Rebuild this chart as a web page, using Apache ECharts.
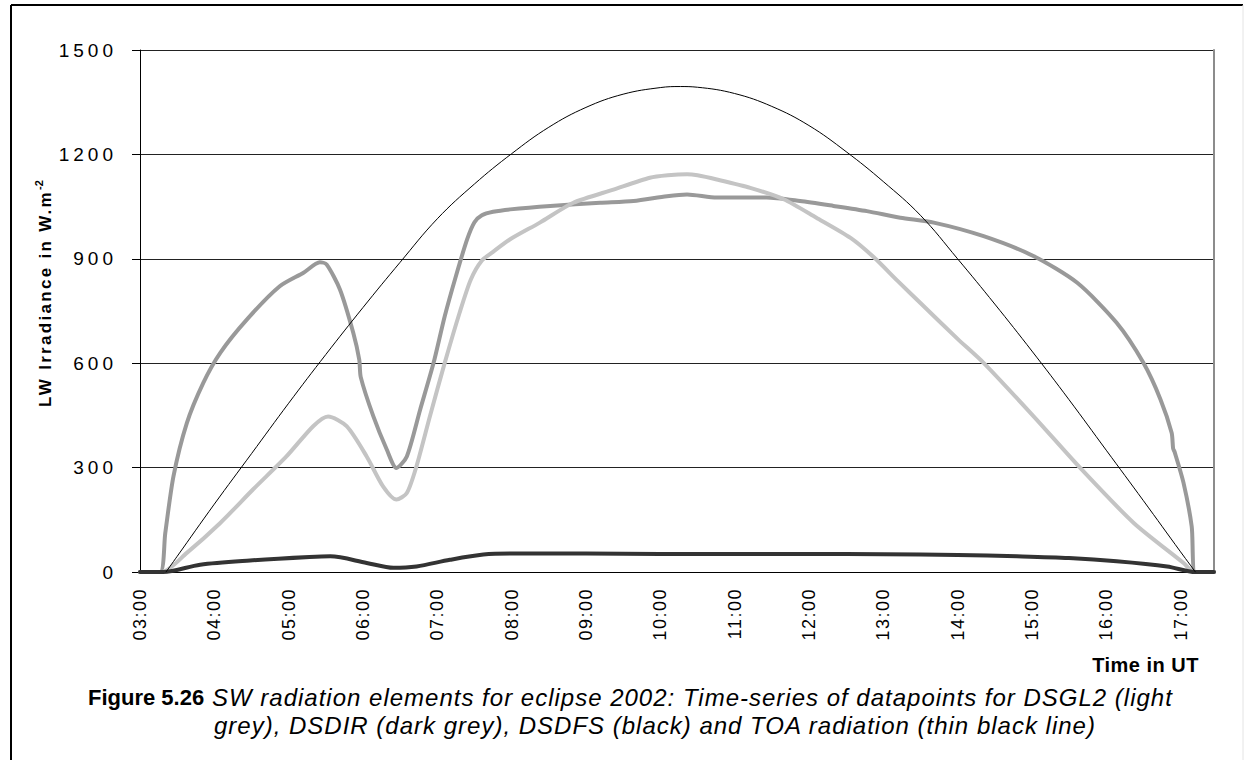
<!DOCTYPE html>
<html>
<head>
<meta charset="utf-8">
<script src="https://cdn.jsdelivr.net/npm/echarts@6/dist/echarts.min.js"></script>
<style>
  html, body { margin: 0; padding: 0; background: #fff; }
  #chart { width: 1244px; height: 760px; }
  /* tracking for the different text groups (keyed on their font size) */
  #chart text[style*="19px"] { letter-spacing: 4px; }
  #chart text[style*="18px"] { letter-spacing: 1.5px; }
  #chart text[style*="17px"] { letter-spacing: 2.3px; }
  #chart text[style*="20px"] { letter-spacing: 0.5px; }
  #chart text[style*="24px"] { letter-spacing: 1px; }
</style>
</head>
<body>
<div id="chart"></div>
<script>
// Time in decimal hours (UT) and irradiance in W/m2 for each series.
const dsglTime  = [3.0, 3.29, 3.63, 4.08, 4.52, 4.97, 5.33, 5.53, 5.78, 6.05, 6.27, 6.45, 6.59, 6.72, 6.9, 7.1, 7.3, 7.45, 7.6, 7.75, 7.98, 8.38, 8.83, 9.37, 9.86, 10.1, 10.36, 10.5, 10.76, 11.21, 11.66, 12.1, 12.56, 12.87, 13.2, 13.5, 14.0, 14.35, 15.02, 15.65, 16.37, 17.04, 17.18, 17.45];
const dsglValue = [0, 0, 55, 141, 237, 332, 419, 447, 419, 332, 246, 208, 227, 304, 447, 601, 745, 840, 895, 920, 956, 1004, 1061, 1099, 1133, 1140, 1143, 1140, 1128, 1104, 1071, 1018, 960, 905, 835, 773, 670, 601, 448, 299, 141, 26, 0, 0];

const dsdirTime  = [3.0, 3.27, 3.34, 3.45, 3.63, 3.85, 4.08, 4.44, 4.88, 5.2, 5.42, 5.51, 5.69, 5.87, 5.95, 5.97, 6.14, 6.32, 6.45, 6.59, 6.77, 6.95, 7.1, 7.25, 7.4, 7.5, 7.6, 7.75, 7.98, 8.52, 9.19, 9.64, 10.09, 10.36, 10.76, 11.43, 11.88, 12.33, 12.78, 13.23, 13.68, 14.35, 15.02, 15.61, 16.14, 16.5, 16.73, 16.88, 16.9, 16.92, 17.04, 17.15, 17.2, 17.45];
const dsdirValue = [0, 0, 112, 275, 428, 543, 630, 726, 821, 860, 890, 884, 812, 687, 610, 560, 447, 352, 299, 332, 467, 601, 735, 850, 955, 1005, 1025, 1035, 1042, 1052, 1061, 1066, 1080, 1085, 1076, 1076, 1066, 1052, 1037, 1018, 1004, 965, 908, 831, 716, 601, 496, 400, 355, 345, 256, 131, 0, 0];

const dsdfsTime  = [3.0, 3.31, 3.81, 4.48, 5.28, 5.56, 6.05, 6.41, 6.72, 7.17, 7.62, 8.0, 9.0, 10.0, 11.0, 12.0, 13.0, 14.0, 14.8, 15.5, 16.14, 16.82, 17.2, 17.45];
const dsdfsValue = [0, 0, 21, 33, 43, 45, 26, 12, 16, 35, 50, 53, 53, 52, 52, 52, 51, 49, 45, 40, 31, 16, 0, 0];

const toaTime  = [3.35, 3.5, 4.0, 4.5, 5.0, 5.5, 6.0, 6.5, 7.0, 7.5, 8.0, 8.5, 9.0, 9.5, 10.0, 10.27, 10.5, 11.0, 11.5, 12.0, 12.5, 13.0, 13.5, 14.0, 14.5, 15.0, 15.5, 16.0, 16.5, 17.0, 17.2];
const toaValue = [0, 45, 195, 340, 485, 625, 760, 890, 1015, 1115, 1202, 1278, 1335, 1373, 1392, 1395, 1393, 1375, 1338, 1283, 1208, 1122, 1025, 900, 770, 635, 495, 350, 205, 58, 0];

const yTicks = [0, 300, 600, 900, 1200, 1500];

const zip = (t, v) => t.map((x, i) => [x, v[i]]);
const FONT = "'Liberation Sans', Arial, sans-serif";

const chart = echarts.init(document.getElementById('chart'), null, { renderer: 'svg' });

const line = (name, t, v, color, width, smooth) => ({
  name, type: 'line', data: zip(t, v), showSymbol: false, symbol: 'none',
  smooth, lineStyle: { color, width, cap: 'round', join: 'round' }, silent: true
});

chart.setOption({
  animation: false,
  backgroundColor: '#ffffff',
  grid: { left: 140, top: 50, right: 30, bottom: 188 },
  xAxis: {
    type: 'value', min: 3, max: 17.45, interval: 1,
    axisLine: { show: true, onZero: false, lineStyle: { color: '#000', width: 1 } },
    axisTick: { show: false },
    splitLine: { show: false },
    axisLabel: {
      rotate: 90, margin: 16, fontFamily: FONT, fontSize: 18, color: '#000',
      showMaxLabel: false,
      formatter: v => Number.isInteger(v) ? String(v).padStart(2, '0') + ':00' : ''
    }
  },
  yAxis: [{
    type: 'value', min: yTicks[0], max: yTicks[yTicks.length - 1], interval: yTicks[1] - yTicks[0],
    axisLine: { show: true, lineStyle: { color: '#000', width: 1 } },
    axisTick: { show: true, length: 8, lineStyle: { color: '#000' } },
    splitLine: { show: true, lineStyle: { color: '#222', width: 1 } },
    axisLabel: { margin: 23, fontFamily: FONT, fontSize: 19, color: '#000', formatter: v => String(v) }
  }, {
    type: 'value', position: 'right', min: 0, max: 1500,
    axisLine: { show: true, lineStyle: { color: '#8c8c8c', width: 2 } },
    axisTick: { show: false }, axisLabel: { show: false }, splitLine: { show: false }
  }],
  series: [
    line('DSDIR', dsdirTime, dsdirValue, '#999999', 4, 0.25),
    line('DSGL2', dsglTime, dsglValue, '#c4c4c4', 4, 0.25),
    line('DSDFS', dsdfsTime, dsdfsValue, '#333333', 4, 0.3),
    line('TOA', toaTime, toaValue, '#000000', 1, 0.4)
  ],
  graphic: [
    // figure frame
    { type: 'line', shape: { x1: 11, y1: 5, x2: 1243, y2: 5 }, style: { stroke: '#000', lineWidth: 2 } },
    { type: 'line', shape: { x1: 11, y1: 5, x2: 11, y2: 760 }, style: { stroke: '#000', lineWidth: 2 } },
    { type: 'line', shape: { x1: 1243, y1: 5, x2: 1243, y2: 760 }, style: { stroke: '#e4e4e4', lineWidth: 1 } },
    // y axis title and its superscript
    {
      type: 'text', x: 45, y: 190, rotation: Math.PI / 2,
      style: { text: 'LW Irradiance in W.m', font: "bold 17px " + FONT, fill: '#000', align: 'right', verticalAlign: 'middle' }
    },
    {
      type: 'text', x: 39, y: 190, rotation: Math.PI / 2,
      style: { text: '-2', font: "bold 11px " + FONT, fill: '#000', align: 'left', verticalAlign: 'middle' }
    },
    // x axis title
    {
      type: 'text', x: 1199, y: 665,
      style: { text: 'Time in UT', font: "bold 20px " + FONT, fill: '#000', align: 'right', verticalAlign: 'middle' }
    },
    // caption
    {
      type: 'text', x: 88, y: 697,
      style: { text: 'Figure 5.26', font: "bold 22px " + FONT, fill: '#000', align: 'left', verticalAlign: 'middle' }
    },
    {
      type: 'text', x: 212, y: 697,
      style: { text: 'SW radiation elements for eclipse 2002: Time-series of datapoints for DSGL2 (light', font: "italic 24px " + FONT, fill: '#000', align: 'left', verticalAlign: 'middle' }
    },
    {
      type: 'text', x: 214, y: 725,
      style: { text: 'grey), DSDIR (dark grey), DSDFS (black) and TOA radiation (thin black line)', font: "italic 24px " + FONT, fill: '#000', align: 'left', verticalAlign: 'middle' }
    }
  ]
});
</script>
</body>
</html>
